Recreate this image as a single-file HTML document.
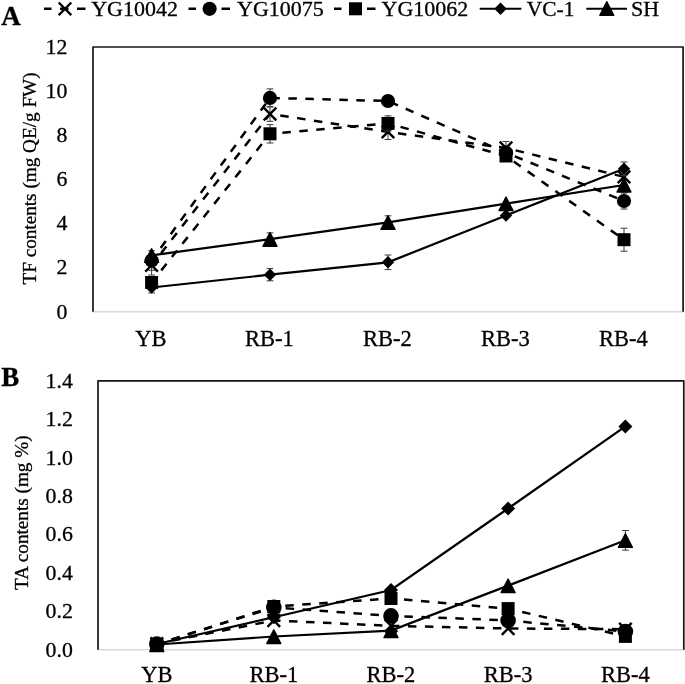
<!DOCTYPE html><html><head><meta charset="utf-8"><title>chart</title><style>html,body{margin:0;padding:0;background:#fff}svg{display:block}text{font-family:"Liberation Serif",serif;fill:#000;stroke:#000;stroke-width:0.3px}</style></head><body>
<svg width="685" height="684" viewBox="0 0 685 684">
<rect width="685" height="684" fill="#fff"/>
<defs><filter id="soft" x="0" y="0" width="685" height="684" filterUnits="userSpaceOnUse" color-interpolation-filters="sRGB"><feGaussianBlur stdDeviation="0.45"/></filter></defs>
<g filter="url(#soft)">
<rect width="685" height="684" fill="#fff"/>
<text x="1.2" y="25" font-size="27" font-weight="bold">A</text>
<text x="1.2" y="386.4" font-size="27" font-weight="bold">B</text>
<line x1="44" y1="8.8" x2="86" y2="8.8" stroke="#000" stroke-width="2.5" stroke-dasharray="8.5 8.5" stroke-dashoffset="1"/>
<path d="M58.7 2.5L71.3 15.1M58.7 15.1L71.3 2.5" stroke="#000" stroke-width="2.4" fill="none"/>
<text x="91.2" y="15.6" font-size="22.0">YG10042</text>
<line x1="188.5" y1="8.8" x2="230.5" y2="8.8" stroke="#000" stroke-width="2.5" stroke-dasharray="8.5 8.5" stroke-dashoffset="1"/>
<circle cx="209.6" cy="8.8" r="7.1" fill="#000"/>
<text x="237" y="15.6" font-size="22.0">YG10075</text>
<line x1="334" y1="8.8" x2="376" y2="8.8" stroke="#000" stroke-width="2.5" stroke-dasharray="8.5 8.5" stroke-dashoffset="1"/>
<rect x="349" y="2.3" width="13" height="13" fill="#000"/>
<text x="381.5" y="15.6" font-size="22.0">YG10062</text>
<line x1="479.7" y1="8.8" x2="521.4" y2="8.8" stroke="#000" stroke-width="2.1"/>
<path d="M500.5 2.6L506.7 8.8L500.5 15L494.3 8.8Z" fill="#000"/>
<text x="526.8" y="15.6" font-size="21.4">VC-1</text>
<line x1="586.3" y1="8.8" x2="627" y2="8.8" stroke="#000" stroke-width="2.1"/>
<path d="M606.8 1.7L613.8 15.3L599.8 15.3Z" fill="#000" stroke="#000" stroke-width="1.4" stroke-linejoin="round"/>
<text x="631" y="15.6" font-size="22.0">SH</text>
<line x1="93" y1="311.7" x2="683.85" y2="311.7" stroke="#d9d9d9" stroke-width="1.5"/>
<path d="M93 311.7V47H683.1V311.7" fill="none" stroke="#161616" stroke-width="1.7" stroke-linejoin="round"/>
<text x="67.3" y="318.6" font-size="21.8" text-anchor="end">0</text>
<text x="67.3" y="274.48" font-size="21.8" text-anchor="end">2</text>
<text x="67.3" y="230.37" font-size="21.8" text-anchor="end">4</text>
<text x="67.3" y="186.25" font-size="21.8" text-anchor="end">6</text>
<text x="67.3" y="142.13" font-size="21.8" text-anchor="end">8</text>
<text x="67.3" y="98.02" font-size="21.8" text-anchor="end">10</text>
<text x="67.3" y="53.9" font-size="21.8" text-anchor="end">12</text>
<text x="151" y="345.6" font-size="22.5" text-anchor="middle">YB</text>
<text x="269.4" y="345.6" font-size="22.5" text-anchor="middle">RB-1</text>
<text x="387.4" y="345.6" font-size="22.5" text-anchor="middle">RB-2</text>
<text x="505.4" y="345.6" font-size="22.5" text-anchor="middle">RB-3</text>
<text x="623.4" y="345.6" font-size="22.5" text-anchor="middle">RB-4</text>
<text transform="translate(36.1 178.5) rotate(-90)" font-size="19.2" text-anchor="middle">TF contents (mg QE/g FW)</text>
<polyline points="151.6,265.3 270,114 388,131.9 506,148 624,176.9" fill="none" stroke="#000" stroke-width="2.5" stroke-dasharray="8.5 8.5" stroke-dashoffset="1.5"/>
<path d="M151.6 265.3V275M148.2 275H155" stroke="#3a3a3a" stroke-width="1" fill="none"/>
<path d="M270 106.7V121.3M266.6 106.7H273.4M266.6 121.3H273.4" stroke="#3a3a3a" stroke-width="1" fill="none"/>
<path d="M388 124.3V139.5M384.6 124.3H391.4M384.6 139.5H391.4" stroke="#3a3a3a" stroke-width="1" fill="none"/>
<path d="M506 141.5V154.5M502.6 141.5H509.4M502.6 154.5H509.4" stroke="#3a3a3a" stroke-width="1" fill="none"/>

<path d="M145.3 259L157.9 271.6M145.3 271.6L157.9 259" stroke="#000" stroke-width="2.4" fill="none"/>
<path d="M263.7 107.7L276.3 120.3M263.7 120.3L276.3 107.7" stroke="#000" stroke-width="2.4" fill="none"/>
<path d="M381.7 125.6L394.3 138.2M381.7 138.2L394.3 125.6" stroke="#000" stroke-width="2.4" fill="none"/>
<path d="M499.7 141.7L512.3 154.3M499.7 154.3L512.3 141.7" stroke="#000" stroke-width="2.4" fill="none"/>
<path d="M617.7 170.6L630.3 183.2M617.7 183.2L630.3 170.6" stroke="#000" stroke-width="2.4" fill="none"/>
<polyline points="151.6,260.5 270,97.9 388,101 506,152.7 624,201" fill="none" stroke="#000" stroke-width="2.5" stroke-dasharray="8.5 8.5" stroke-dashoffset="1.5"/>
<path d="M151.6 250.7V270.3M148.2 250.7H155M148.2 270.3H155" stroke="#3a3a3a" stroke-width="1" fill="none"/>
<path d="M270 88.9V106.9M266.6 88.9H273.4M266.6 106.9H273.4" stroke="#3a3a3a" stroke-width="1" fill="none"/>


<path d="M624 193V209M620.6 193H627.4M620.6 209H627.4" stroke="#3a3a3a" stroke-width="1" fill="none"/>
<circle cx="151.6" cy="260.5" r="7.1" fill="#000"/>
<circle cx="270" cy="97.9" r="7.1" fill="#000"/>
<circle cx="388" cy="101" r="7.1" fill="#000"/>
<circle cx="506" cy="152.7" r="7.1" fill="#000"/>
<circle cx="624" cy="201" r="7.1" fill="#000"/>
<polyline points="151.6,282.5 270,133.8 388,123.4 506,156 624,239.7" fill="none" stroke="#000" stroke-width="2.5" stroke-dasharray="8.5 8.5" stroke-dashoffset="1.5"/>
<path d="M151.6 282.5V292.9M148.2 292.9H155" stroke="#3a3a3a" stroke-width="1" fill="none"/>
<path d="M270 124.6V143M266.6 124.6H273.4M266.6 143H273.4" stroke="#3a3a3a" stroke-width="1" fill="none"/>
<path d="M388 115.8V131M384.6 115.8H391.4M384.6 131H391.4" stroke="#3a3a3a" stroke-width="1" fill="none"/>

<path d="M624 228.2V251.2M620.6 228.2H627.4M620.6 251.2H627.4" stroke="#3a3a3a" stroke-width="1" fill="none"/>
<rect x="145.1" y="276" width="13" height="13" fill="#000"/>
<rect x="263.5" y="127.3" width="13" height="13" fill="#000"/>
<rect x="381.5" y="116.9" width="13" height="13" fill="#000"/>
<rect x="499.5" y="149.5" width="13" height="13" fill="#000"/>
<rect x="617.5" y="233.2" width="13" height="13" fill="#000"/>
<polyline points="151.6,287.5 270,274.7 388,262.3 506,215.5 624,168.8" fill="none" stroke="#000" stroke-width="2.2"/>

<path d="M270 268.6V280.8M266.6 268.6H273.4M266.6 280.8H273.4" stroke="#3a3a3a" stroke-width="1" fill="none"/>
<path d="M388 255V269.6M384.6 255H391.4M384.6 269.6H391.4" stroke="#3a3a3a" stroke-width="1" fill="none"/>

<path d="M624 162V175.6M620.6 162H627.4M620.6 175.6H627.4" stroke="#3a3a3a" stroke-width="1" fill="none"/>
<path d="M151.6 281.3L157.8 287.5L151.6 293.7L145.4 287.5Z" fill="#000"/>
<path d="M270 268.5L276.2 274.7L270 280.9L263.8 274.7Z" fill="#000"/>
<path d="M388 256.1L394.2 262.3L388 268.5L381.8 262.3Z" fill="#000"/>
<path d="M506 209.3L512.2 215.5L506 221.7L499.8 215.5Z" fill="#000"/>
<path d="M624 162.6L630.2 168.8L624 175L617.8 168.8Z" fill="#000"/>
<polyline points="151.6,255.3 270,239.2 388,222.4 506,203.6 624,185" fill="none" stroke="#000" stroke-width="2.2"/>

<path d="M270 232.9V239.2M266.6 232.9H273.4" stroke="#3a3a3a" stroke-width="1" fill="none"/>
<path d="M388 215.8V222.4M384.6 215.8H391.4" stroke="#3a3a3a" stroke-width="1" fill="none"/>


<path d="M151.6 248.7L158.6 262.3L144.6 262.3Z" fill="#000" stroke="#000" stroke-width="1.4" stroke-linejoin="round"/>
<path d="M270 232.6L277 246.2L263 246.2Z" fill="#000" stroke="#000" stroke-width="1.4" stroke-linejoin="round"/>
<path d="M388 215.8L395 229.4L381 229.4Z" fill="#000" stroke="#000" stroke-width="1.4" stroke-linejoin="round"/>
<path d="M506 197L513 210.6L499 210.6Z" fill="#000" stroke="#000" stroke-width="1.4" stroke-linejoin="round"/>
<path d="M624 178.4L631 192L617 192Z" fill="#000" stroke="#000" stroke-width="1.4" stroke-linejoin="round"/>
<line x1="98" y1="649.7" x2="684.55" y2="649.7" stroke="#d9d9d9" stroke-width="1.5"/>
<path d="M98 649.7V380.8H683.8V649.7" fill="none" stroke="#161616" stroke-width="1.7" stroke-linejoin="round"/>
<text x="72.8" y="656.6" font-size="21.8" text-anchor="end">0.0</text>
<text x="72.8" y="618.19" font-size="21.8" text-anchor="end">0.2</text>
<text x="72.8" y="579.77" font-size="21.8" text-anchor="end">0.4</text>
<text x="72.8" y="541.36" font-size="21.8" text-anchor="end">0.6</text>
<text x="72.8" y="502.94" font-size="21.8" text-anchor="end">0.8</text>
<text x="72.8" y="464.53" font-size="21.8" text-anchor="end">1.0</text>
<text x="72.8" y="426.11" font-size="21.8" text-anchor="end">1.2</text>
<text x="72.8" y="387.7" font-size="21.8" text-anchor="end">1.4</text>
<text x="156.8" y="682.2" font-size="22.5" text-anchor="middle">YB</text>
<text x="273.8" y="682.2" font-size="22.5" text-anchor="middle">RB-1</text>
<text x="391" y="682.2" font-size="22.5" text-anchor="middle">RB-2</text>
<text x="508.1" y="682.2" font-size="22.5" text-anchor="middle">RB-3</text>
<text x="625.4" y="682.2" font-size="22.5" text-anchor="middle">RB-4</text>
<text transform="translate(28 512.7) rotate(-90)" font-size="19.2" text-anchor="middle">TA contents (mg %)</text>
<polyline points="156.8,643.6 273.8,620.5 391,625.8 508.1,628.5 625.4,629.2" fill="none" stroke="#000" stroke-width="2.5" stroke-dasharray="8.5 8.5" stroke-dashoffset="1.5"/>
<path d="M150.5 637.3L163.1 649.9M150.5 649.9L163.1 637.3" stroke="#000" stroke-width="2.4" fill="none"/>
<path d="M267.5 614.2L280.1 626.8M267.5 626.8L280.1 614.2" stroke="#000" stroke-width="2.4" fill="none"/>
<path d="M384.7 619.5L397.3 632.1M384.7 632.1L397.3 619.5" stroke="#000" stroke-width="2.4" fill="none"/>
<path d="M501.8 622.2L514.4 634.8M501.8 634.8L514.4 622.2" stroke="#000" stroke-width="2.4" fill="none"/>
<path d="M619.1 622.9L631.7 635.5M619.1 635.5L631.7 622.9" stroke="#000" stroke-width="2.4" fill="none"/>
<polyline points="156.8,644 273.8,607.4 391,615.9 508.1,620.4 625.4,631.5" fill="none" stroke="#000" stroke-width="2.5" stroke-dasharray="8.5 8.5" stroke-dashoffset="1.5"/>
<circle cx="156.8" cy="644" r="7.8" fill="#000"/>
<circle cx="273.8" cy="607.4" r="7.8" fill="#000"/>
<circle cx="391" cy="615.9" r="7.8" fill="#000"/>
<circle cx="508.1" cy="620.4" r="7.8" fill="#000"/>
<circle cx="625.4" cy="631.5" r="7.8" fill="#000"/>
<polyline points="156.8,644.5 273.8,606.5 391,598.5 508.1,608.6 625.4,636.4" fill="none" stroke="#000" stroke-width="2.5" stroke-dasharray="8.5 8.5" stroke-dashoffset="1.5"/>
<rect x="150.3" y="638" width="13" height="13" fill="#000"/>
<rect x="267.3" y="600" width="13" height="13" fill="#000"/>
<rect x="384.5" y="592" width="13" height="13" fill="#000"/>
<rect x="501.6" y="602.1" width="13" height="13" fill="#000"/>
<rect x="618.9" y="629.9" width="13" height="13" fill="#000"/>
<polyline points="156.8,644 273.8,617.2 391,590 508.1,508.5 625.4,426.4" fill="none" stroke="#000" stroke-width="2.2"/>
<path d="M156.8 637L163.8 644L156.8 651L149.8 644Z" fill="#000"/>
<path d="M273.8 610.2L280.8 617.2L273.8 624.2L266.8 617.2Z" fill="#000"/>
<path d="M391 583L398 590L391 597L384 590Z" fill="#000"/>
<path d="M508.1 501.5L515.1 508.5L508.1 515.5L501.1 508.5Z" fill="#000"/>
<path d="M625.4 419.4L632.4 426.4L625.4 433.4L618.4 426.4Z" fill="#000"/>
<polyline points="156.8,644.5 273.8,636.5 391,630.6 508.1,585.6 625.4,540.3" fill="none" stroke="#000" stroke-width="2.2"/>




<path d="M625.4 530.5V550.1M622 530.5H628.8M622 550.1H628.8" stroke="#3a3a3a" stroke-width="1" fill="none"/>
<path d="M156.8 637.9L163.8 651.5L149.8 651.5Z" fill="#000" stroke="#000" stroke-width="1.4" stroke-linejoin="round"/>
<path d="M273.8 629.9L280.8 643.5L266.8 643.5Z" fill="#000" stroke="#000" stroke-width="1.4" stroke-linejoin="round"/>
<path d="M391 624L398 637.6L384 637.6Z" fill="#000" stroke="#000" stroke-width="1.4" stroke-linejoin="round"/>
<path d="M508.1 579L515.1 592.6L501.1 592.6Z" fill="#000" stroke="#000" stroke-width="1.4" stroke-linejoin="round"/>
<path d="M625.4 533.7L632.4 547.3L618.4 547.3Z" fill="#000" stroke="#000" stroke-width="1.4" stroke-linejoin="round"/>
</g>
</svg></body></html>
